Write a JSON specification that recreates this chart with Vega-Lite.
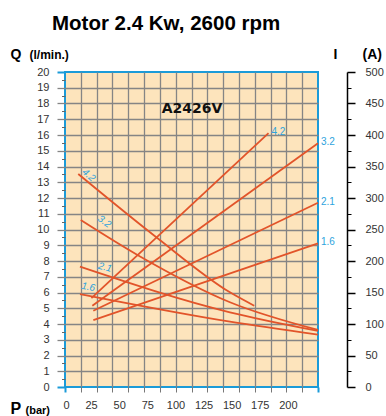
{
  "$schema": "https://vega.github.io/schema/vega-lite/v6.json",
  "width": 253,
  "height": 315,
  "autosize": {"type": "none"},
  "padding": {"left": 65, "top": 72, "right": 68, "bottom": 29},
  "title": {"text": "Motor 2.4 Kw, 2600 rpm", "anchor": "start", "frame": "group", "dx": -13, "offset": -3, "baseline": "alphabetic", "font": "Liberation Sans", "fontSize": 20.5, "fontWeight": "bold", "color": "#000000"},
  "config": {
    "view": {"fill": "#fde4bc", "stroke": "#1b9bd8", "strokeWidth": 2},
    "axis": {"labelFont": "Liberation Sans", "labelColor": "#333333", "labelFontSize": 11, "titleFont": "Liberation Sans", "titleFontWeight": "bold", "titleColor": "#000000", "titleAngle": 0, "titleAlign": "left", "titleBaseline": "alphabetic"}
  },
  "datasets": {
    "Q": [
      {"s": "4.2", "P": 11.8, "Q": 13.52}, {"s": "4.2", "P": 81.5, "Q": 9.49}, {"s": "4.2", "P": 146.7, "Q": 6.01}, {"s": "4.2", "P": 168.3, "Q": 5.16},
      {"s": "3.2", "P": 14, "Q": 10.6}, {"s": "3.2", "P": 65.2, "Q": 8.35}, {"s": "3.2", "P": 146.7, "Q": 5.38}, {"s": "3.2", "P": 225, "Q": 3.62},
      {"s": "2.1", "P": 13.3, "Q": 7.64}, {"s": "2.1", "P": 146.7, "Q": 4.74}, {"s": "2.1", "P": 225, "Q": 3.56},
      {"s": "1.6", "P": 13.3, "Q": 5.9}, {"s": "1.6", "P": 146.7, "Q": 4.15}, {"s": "1.6", "P": 225, "Q": 3.33}
    ],
    "I": [
      {"s": "4.2", "P": 23.5, "I": 141}, {"s": "4.2", "P": 181, "I": 403},
      {"s": "3.2", "P": 24.3, "I": 129}, {"s": "3.2", "P": 225, "I": 387},
      {"s": "2.1", "P": 25.2, "I": 121}, {"s": "2.1", "P": 225, "I": 292.5},
      {"s": "1.6", "P": 25.2, "I": 106}, {"s": "1.6", "P": 225, "I": 228}
    ],
    "QLabels": [
      {"s": "4.2", "P": 21, "Q": 13.45}, {"s": "3.2", "P": 35, "Q": 10.5}, {"s": "2.1", "P": 35.6, "Q": 7.6}, {"s": "1.6", "P": 20.7, "Q": 6.35}
    ],
    "ILabels": [
      {"s": "4.2", "P": 181, "I": 403}, {"s": "3.2", "P": 225, "I": 387}, {"s": "2.1", "P": 225, "I": 292.5}, {"s": "1.6", "P": 225, "I": 228}
    ],
    "model": [{"name": "A2426V", "P": 113, "Q": 17.65}]
  },
  "layer": [
    {
      "data": {"name": "Q"},
      "mark": {"type": "line", "color": "#e2542a", "strokeWidth": 1.8, "interpolate": "monotone"},
      "encoding": {
        "x": {"field": "P", "type": "quantitative", "scale": {"domain": [0, 225], "nice": false, "zero": false},
          "axis": {"orient": "bottom", "values": [0, 14.0625, 28.125, 42.1875, 56.25, 70.3125, 84.375, 98.4375, 112.5, 126.5625, 140.625, 154.6875, 168.75, 182.8125, 196.875, 210.9375, 225],
            "grid": true, "gridColor": {"condition": {"test": "datum.value <= 0 || datum.value >= 225", "value": "transparent"}, "value": "#858585"}, "gridWidth": 1.3,
            "labels": false, "ticks": true, "tickSize": 5,
            "tickColor": {"condition": {"test": "datum.value <= 0 || datum.value >= 225", "value": "#1b9bd8"}, "value": "#777777"},
            "tickWidth": {"condition": {"test": "datum.value <= 0 || datum.value >= 225", "value": 2}, "value": 1},
            "domain": false, "title": "P", "titleX": -55, "titleY": 26, "titleFontSize": 16}},
        "y": {"field": "Q", "type": "quantitative", "scale": {"domain": [0, 20], "nice": false},
          "axis": {"orient": "left", "values": [0, 1, 2, 3, 4, 5, 6, 7, 8, 9, 10, 11, 12, 13, 14, 15, 16, 17, 18, 19, 20],
            "grid": true, "gridColor": {"condition": {"test": "datum.value <= 0 || datum.value >= 20", "value": "transparent"}, "value": "#858585"}, "gridWidth": 1.3,
            "tickSize": 8,
            "tickColor": {"condition": {"test": "datum.value <= 0 || datum.value >= 20", "value": "#1b9bd8"}, "value": "#858585"},
            "tickWidth": {"condition": {"test": "datum.value <= 0 || datum.value >= 20", "value": 2}, "value": 1.3},
            "labelPadding": 8, "domain": false, "title": "Q", "titleX": -55, "titleY": -14, "titleFontSize": 14}},
        "detail": {"field": "s"}
      }
    },
    {
      "data": {"name": "I"},
      "mark": {"type": "line", "color": "#e2542a", "strokeWidth": 1.8},
      "encoding": {
        "x": {"field": "P", "type": "quantitative", "scale": {"domain": [0, 225], "nice": false, "zero": false},
          "axis": {"orient": "bottom", "values": [0, 25, 50, 75, 100, 125, 150, 175, 200], "grid": false, "ticks": false, "domain": false, "labelPadding": 12, "labelOffset": -2,
            "title": "(bar)", "titleX": -40, "titleY": 26, "titleFontSize": 11}},
        "y": {"field": "I", "type": "quantitative", "scale": {"domain": [0, 500], "nice": false},
          "axis": {"orient": "right", "offset": 29, "values": [0, 50, 100, 150, 200, 250, 300, 350, 400, 450, 500], "grid": false,
            "domain": true, "domainColor": "#000000", "domainWidth": 1.5, "tickColor": "#000000", "tickSize": 8, "tickWidth": 1.5, "labelPadding": 10,
            "title": "I", "titleX": -14, "titleY": -14, "titleFontSize": 14}},
        "detail": {"field": "s"}
      }
    },
    {
      "data": {"name": "QLabels"},
      "transform": [{"filter": "datum.s === '4.2'"}],
      "mark": {"type": "text", "color": "#2ea3dd", "font": "Liberation Sans", "fontSize": 10, "fontStyle": "italic", "angle": 42, "align": "center", "baseline": "middle"},
      "encoding": {
        "x": {"field": "P", "type": "quantitative", "scale": {"domain": [0, 225], "nice": false, "zero": false}, "axis": null},
        "y": {"field": "Q", "type": "quantitative", "scale": {"domain": [0, 20], "nice": false},
          "axis": {"orient": "left", "values": [0.5, 1.5, 2.5, 3.5, 4.5, 5.5, 6.5, 7.5, 8.5, 9.5, 10.5, 11.5, 12.5, 13.5, 14.5, 15.5, 16.5, 17.5, 18.5, 19.5],
            "grid": false, "labels": false, "domain": false, "tickSize": 3.5, "tickColor": "#666666", "tickWidth": 1,
            "title": "(l/min.)", "titleX": -36, "titleY": -14, "titleFontSize": 12}},
        "text": {"field": "s"}
      }
    },
    {
      "data": {"name": "QLabels"},
      "transform": [{"filter": "datum.s === '3.2'"}],
      "mark": {"type": "text", "color": "#2ea3dd", "font": "Liberation Sans", "fontSize": 10, "fontStyle": "italic", "angle": 35, "align": "center", "baseline": "middle"},
      "encoding": {
        "x": {"field": "P", "type": "quantitative", "scale": {"domain": [0, 225], "nice": false, "zero": false}, "axis": null},
        "y": {"field": "Q", "type": "quantitative", "scale": {"domain": [0, 20], "nice": false}, "axis": null},
        "text": {"field": "s"}
      }
    },
    {
      "data": {"name": "QLabels"},
      "transform": [{"filter": "datum.s === '2.1'"}],
      "mark": {"type": "text", "color": "#2ea3dd", "font": "Liberation Sans", "fontSize": 10, "fontStyle": "italic", "angle": 15, "align": "center", "baseline": "middle"},
      "encoding": {
        "x": {"field": "P", "type": "quantitative", "scale": {"domain": [0, 225], "nice": false, "zero": false}, "axis": null},
        "y": {"field": "Q", "type": "quantitative", "scale": {"domain": [0, 20], "nice": false}, "axis": null},
        "text": {"field": "s"}
      }
    },
    {
      "data": {"name": "QLabels"},
      "transform": [{"filter": "datum.s === '1.6'"}],
      "mark": {"type": "text", "color": "#2ea3dd", "font": "Liberation Sans", "fontSize": 10, "fontStyle": "italic", "angle": 10, "align": "center", "baseline": "middle"},
      "encoding": {
        "x": {"field": "P", "type": "quantitative", "scale": {"domain": [0, 225], "nice": false, "zero": false}, "axis": null},
        "y": {"field": "Q", "type": "quantitative", "scale": {"domain": [0, 20], "nice": false}, "axis": null},
        "text": {"field": "s"}
      }
    },
    {
      "data": {"name": "ILabels"},
      "mark": {"type": "text", "color": "#2ea3dd", "font": "Liberation Sans", "fontSize": 10, "align": "left", "baseline": "middle", "dx": 3, "dy": -1},
      "encoding": {
        "x": {"field": "P", "type": "quantitative", "scale": {"domain": [0, 225], "nice": false, "zero": false}, "axis": null},
        "y": {"field": "I", "type": "quantitative", "scale": {"domain": [0, 500], "nice": false},
          "axis": {"orient": "right", "offset": 29, "values": [25, 75, 125, 175, 225, 275, 325, 375, 425, 475], "grid": false, "labels": false, "domain": false,
            "tickSize": 4, "tickColor": "#000000", "tickWidth": 1,
            "title": "(A)", "titleX": 15, "titleY": -14, "titleFontSize": 14}},
        "text": {"field": "s"}
      }
    },
    {
      "data": {"name": "model"},
      "mark": {"type": "text", "color": "#111111", "font": "DejaVu Sans", "fontSize": 14, "fontWeight": "bold", "align": "center", "baseline": "middle"},
      "encoding": {
        "x": {"field": "P", "type": "quantitative", "scale": {"domain": [0, 225], "nice": false, "zero": false}, "axis": null},
        "y": {"field": "Q", "type": "quantitative", "scale": {"domain": [0, 20], "nice": false}, "axis": null},
        "text": {"field": "name"}
      }
    }
  ],
  "resolve": {"scale": {"y": "independent"}, "axis": {"x": "independent", "y": "independent"}}
}
